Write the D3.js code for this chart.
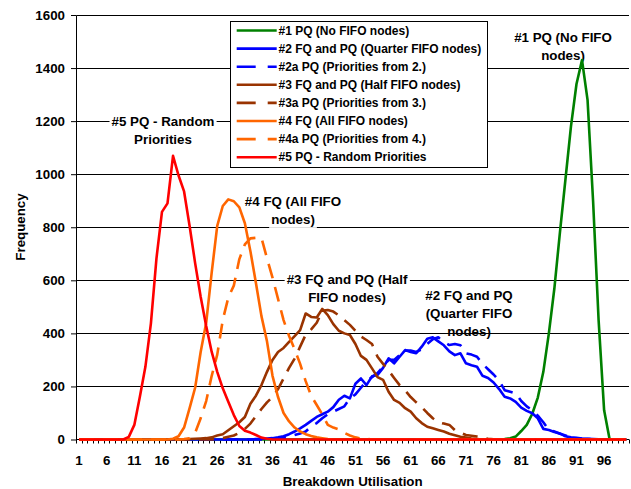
<!DOCTYPE html>
<html>
<head>
<meta charset="utf-8">
<script src="https://cdn.jsdelivr.net/npm/d3@7/dist/d3.min.js"></script>
<style>
  body { margin: 0; background: #fff; }
  svg text { font-family: Arial, "Liberation Sans", sans-serif; font-weight: bold; fill: #000; }
</style>
</head>
<body>
<svg id="chart" width="631" height="489"></svg>
<script>
// Breakdown utilisation categories 1..100
const categories = d3.range(1, 101);
const xTickLabels = [1, 6, 11, 16, 21, 26, 31, 36, 41, 46, 51, 56, 61, 66, 71, 76, 81, 86, 91, 96];
const yTicks = [0, 200, 400, 600, 800, 1000, 1200, 1400, 1600];

// Frequency per utilisation bucket, one array per scheduler variant
const pq1 = [
  0,0,0,0,0,0,0,0,0,0,
  0,0,0,0,0,0,0,0,0,0,
  0,0,0,0,0,0,0,0,0,0,
  0,0,0,0,0,0,0,0,0,0,
  0,0,0,0,0,0,0,0,0,0,
  0,0,0,0,0,0,0,0,0,0,
  0,0,0,0,0,0,0,0,0,0,
  0,0,0,0,0,0,0,2,5,11,
  32,55,97,158,255,400,570,780,980,1180,
  1340,1430,1280,900,450,110,0,0,0,0
];
const fqpq2 = [
  0,0,0,0,0,0,0,0,0,0,
  0,0,0,0,0,0,0,0,0,0,
  0,0,0,0,0,0,0,0,0,0,
  0,0,2,3,4,5,8,12,20,30,
  42,55,70,85,95,105,122,150,165,155,
  210,230,205,238,243,270,306,287,312,337,
  330,325,350,380,385,370,355,332,318,325,
  287,280,274,240,232,215,190,161,155,142,
  120,108,99,80,40,36,28,23,12,8,
  6,4,3,2,1,0,0,0,0,0
];
const pq2a = [
  0,0,0,0,0,0,0,0,0,0,
  0,0,0,0,0,0,0,0,0,0,
  0,0,0,0,0,0,0,0,0,0,
  0,0,0,0,0,2,4,6,10,17,
  23,30,50,62,80,95,105,115,125,155,
  170,195,220,235,250,275,300,300,318,335,
  335,330,340,360,378,385,368,356,360,355,
  325,320,312,285,265,245,222,186,180,174,
  145,125,110,90,65,36,30,22,15,8,
  5,3,2,1,0,0,0,0,0,0
];
const fqpq3 = [
  0,0,0,0,0,0,0,0,0,0,
  0,0,0,0,0,0,0,0,0,0,
  2,3,4,5,8,15,20,35,50,65,
  85,135,165,205,255,300,330,345,368,390,
  412,475,462,460,492,469,435,410,400,394,
  360,315,300,268,235,225,180,149,138,118,
  105,80,62,48,42,36,30,22,16,10,
  7,4,2,0,0,0,0,0,0,0,
  0,0,0,0,0,0,0,0,0,0,
  0,0,0,0,0,0,0,0,0,0
];
const pq3a = [
  0,0,0,0,0,0,0,0,0,0,
  0,0,0,0,0,0,0,0,0,0,
  0,0,0,0,0,3,5,10,15,25,
  40,60,88,115,140,160,190,230,270,305,
  350,395,415,440,485,488,482,468,450,432,
  410,388,375,360,312,285,260,232,205,185,
  160,140,122,100,80,65,60,55,35,25,
  17,14,11,6,3,1,0,0,0,0,
  0,0,0,0,0,0,0,0,0,0,
  0,0,0,0,0,0,0,0,0,0
];
const fq4 = [
  0,0,0,0,0,0,0,0,0,0,
  0,0,0,0,0,0,0,3,12,45,
  118,195,330,440,630,805,880,905,898,875,
  815,710,590,465,370,240,160,100,68,45,
  30,20,13,8,5,2,0,0,0,0,
  0,0,0,0,0,0,0,0,0,0,
  0,0,0,0,0,0,0,0,0,0,
  0,0,0,0,0,0,0,0,0,0,
  0,0,0,0,0,0,0,0,0,0,
  0,0,0,0,0,0,0,0,0,0
];
const pq4a = [
  0,0,0,0,0,0,0,0,0,0,
  0,0,0,0,0,0,0,0,0,2,
  5,25,80,145,240,320,450,535,580,680,
  735,758,760,760,683,610,530,450,390,340,
  285,220,165,130,95,55,45,38,25,15,
  8,4,2,0,0,0,0,0,0,0,
  0,0,0,0,0,0,0,0,0,0,
  0,0,0,0,0,0,0,0,0,0,
  0,0,0,0,0,0,0,0,0,0,
  0,0,0,0,0,0,0,0,0,0
];
const pq5 = [
  0,0,0,0,0,0,0,0,0,10,
  55,161,274,438,682,858,890,1069,995,935,
  805,665,538,428,330,255,193,142,92,51,
  33,26,17,7,3,0,0,0,0,0,
  0,0,0,0,0,0,0,0,0,0,
  0,0,0,0,0,0,0,0,0,0,
  0,0,0,0,0,0,0,0,0,0,
  0,0,0,0,0,0,0,0,0,0,
  0,0,0,0,0,0,0,0,0,0,
  0,0,0,0,0,0,0,0,0,0
];

const seriesNames = [
  "#1 PQ (No FIFO nodes)",
  "#2 FQ and PQ (Quarter FIFO nodes)",
  "#2a PQ (Priorities from 2.)",
  "#3 FQ and PQ (Half FIFO nodes)",
  "#3a PQ (Priorities from 3.)",
  "#4 FQ (All FIFO nodes)",
  "#4a PQ (Priorities from 4.)",
  "#5 PQ - Random Priorities"
];
const seriesValues = [pq1, fqpq2, pq2a, fqpq3, pq3a, fq4, pq4a, pq5];
const seriesColors = ["#008000", "#0000ff", "#0000ff", "#993300", "#993300", "#ff6600", "#ff6600", "#ff0000"];
const seriesDashed = [false, false, true, false, true, false, true, false];

// Curve captions placed on the plot
const captions = [
  { lines: ["#1 PQ (No FIFO", "nodes)"], x: 563, y: 37.5, bg: false },
  { lines: ["#2 FQ and PQ", "(Quarter FIFO", "nodes)"], x: 469, y: 295, bg: false },
  { lines: ["#3 FQ and PQ (Half", "FIFO nodes)"], x: 347, y: 279, bg: true },
  { lines: ["#4 FQ (All FIFO", "nodes)"], x: 293, y: 201, bg: true },
  { lines: ["#5 PQ - Random", "Priorities"], x: 163, y: 121, bg: true }
];

const svg = d3.select("#chart");
const plot = { left: 76.3, right: 629, top: 15, bottom: 439.5 };

const x = d3.scaleBand().domain(categories).range([plot.left, plot.right]).padding(0);
const cx = c => x(c) + x.bandwidth() / 2;
const y = d3.scaleLinear().domain([0, 1600]).range([plot.bottom, plot.top]);
const crisp = v => Math.round(v) + 0.5;

// Horizontal gridlines
svg.append("g")
  .selectAll("line")
  .data(yTicks.filter(v => v > 0))
  .join("line")
  .attr("x1", plot.left).attr("x2", plot.right)
  .attr("y1", d => crisp(y(d))).attr("y2", d => crisp(y(d)))
  .attr("stroke", "#000").attr("stroke-width", 1);

// Value axis
const yAxis = svg.append("g")
  .attr("transform", `translate(${crisp(plot.left) - 0.5},0)`)
  .call(d3.axisLeft(y).tickValues(yTicks).tickFormat(d3.format("d"))
    .tickSize(5).tickPadding(6).tickSizeOuter(0));
yAxis.select(".domain").attr("stroke", "#000");
yAxis.selectAll(".tick line").attr("stroke", "#000");
yAxis.selectAll(".tick text").style("font-size", "13.33px").attr("font-family", null);

// Category axis: line, a tick at every category boundary, labels every fifth category
const xAxisY = plot.bottom;
const boundaries = categories.map(c => x(c)).concat([plot.right]);
svg.append("g").selectAll("line")
  .data(boundaries)
  .join("line")
  .attr("x1", d => crisp(d)).attr("x2", d => crisp(d))
  .attr("y1", xAxisY).attr("y2", xAxisY + 4)
  .attr("stroke", "#000").attr("stroke-width", 1);
svg.append("line")
  .attr("x1", plot.left).attr("x2", plot.right)
  .attr("y1", xAxisY).attr("y2", xAxisY)
  .attr("stroke", "#000").attr("stroke-width", 1);
svg.append("g").selectAll("text")
  .data(xTickLabels)
  .join("text")
  .attr("x", d => cx(d)).attr("y", 465)
  .attr("text-anchor", "middle")
  .style("font-size", "13.33px")
  .text(d => d);

// Axis titles
svg.append("text")
  .attr("transform", "translate(25,227) rotate(-90)")
  .attr("text-anchor", "middle")
  .style("font-size", "13.33px")
  .text("Frequency");
svg.append("text")
  .attr("x", (plot.left + plot.right) / 2).attr("y", 486)
  .attr("text-anchor", "middle")
  .style("font-size", "13.33px")
  .text("Breakdown Utilisation");

// Captions (drawn beneath the curves)
const capG = svg.append("g");
captions.forEach(cap => {
  cap.lines.forEach((line, i) => {
    const t = capG.append("text")
      .attr("x", cap.x).attr("y", cap.y + i * 18.2)
      .attr("dy", "0.35em")
      .attr("text-anchor", "middle")
      .style("font-size", "13.33px")
      .text(line);
    if (cap.bg) {
      const b = t.node().getBBox();
      capG.insert("rect", () => t.node())
        .attr("x", b.x - 2).attr("y", b.y - 1)
        .attr("width", b.width + 4).attr("height", b.height + 2)
        .attr("fill", "#fff");
    }
  });
});

// Series lines
const lineGen = d3.line()
  .x((d, i) => cx(categories[i]))
  .y(d => y(d));

const DASH = "15,9";
svg.append("g")
  .selectAll("path")
  .data(seriesValues)
  .join("path")
  .attr("d", d => lineGen(d))
  .attr("fill", "none")
  .attr("stroke", (d, i) => seriesColors[i])
  .attr("stroke-width", 2.6)
  .attr("stroke-linejoin", "round")
  .attr("stroke-dasharray", (d, i) => seriesDashed[i] ? DASH : null);

// Legend
const lg = { x: 230, y: 21, w: 257, h: 146, row: 18.1 };
svg.append("rect")
  .attr("x", lg.x + 0.5).attr("y", lg.y + 0.5)
  .attr("width", lg.w).attr("height", lg.h)
  .attr("fill", "#fff").attr("stroke", "#000").attr("stroke-width", 1);
const items = svg.append("g").selectAll("g")
  .data(seriesNames)
  .join("g")
  .attr("transform", (d, i) => `translate(0,${lg.y + 9.5 + i * lg.row})`);
items.append("line")
  .attr("x1", 236.7).attr("x2", 276.7)
  .attr("stroke", (d, i) => seriesColors[i])
  .attr("stroke-width", 2.6)
  .attr("stroke-dasharray", (d, i) => seriesDashed[i] ? "19,12" : null);
items.append("text")
  .attr("x", 278.5).attr("dy", "0.35em")
  .style("font-size", "12px")
  .text(d => d);
</script>
</body>
</html>
